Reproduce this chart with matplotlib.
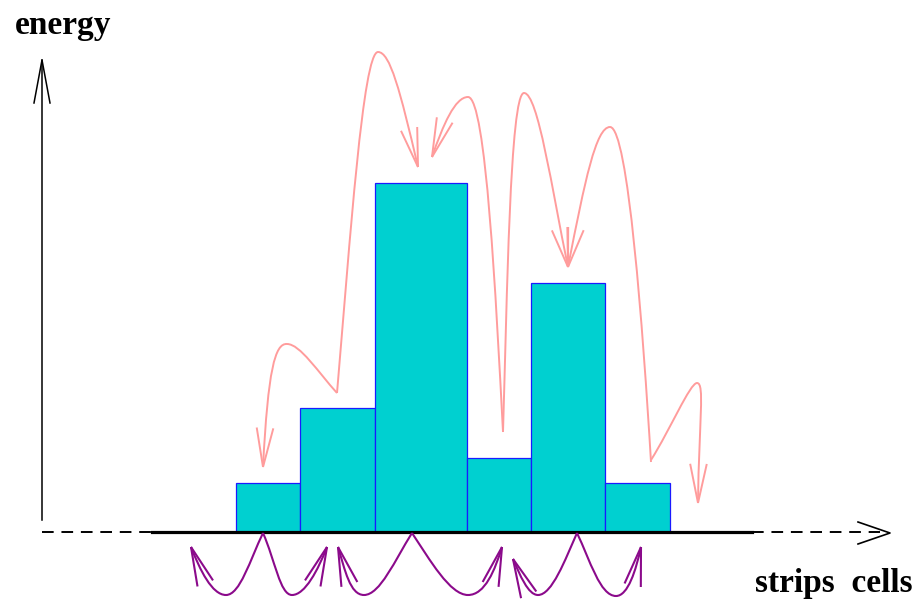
#!/usr/bin/env python
#
# Schematic: energy deposited in strips / cells with clustering arrows
#
import numpy as np
import matplotlib
matplotlib.use("Agg")
from matplotlib import pyplot as plt
from matplotlib.path import Path
from matplotlib.patches import PathPatch

######################################################
# Data (drawing units = pixels, y grows downwards)
######################################################
cell_edges = [236, 300, 375, 467, 531, 605, 670]
energy = [49, 124, 349, 74, 249, 49]
baseline = 532

# pink arrows: chained cubic bezier (start, c, c, peak, c, c, tip)
pink_curves = [
    [(337, 393), (318, 372), (300, 344), (287, 344), (275, 343), (268, 370), (263, 467)],
    [(337, 393), (350, 240), (363, 52), (378, 52), (390, 52), (400, 90), (418, 167)],
    [(503, 432), (496, 300), (486, 97), (468, 97), (455, 97), (443, 125), (432, 157)],
    [(503, 432), (507, 300), (510, 93), (524, 93), (538, 93), (552, 190), (568, 267)],
    [(651, 462), (643, 330), (628, 127), (610, 127), (596, 127), (585, 180), (568, 267)],
    [(651, 460), (670, 430), (690, 383), (697, 383), (705, 383), (699, 420), (698, 503)],
]

# purple arrows below the axis: peak on axis -> minimum -> tip
purple_curves = [
    [(263, 533), (250, 560), (240, 595), (226, 595), (212, 595), (200, 570), (191, 547)],
    [(263, 533), (275, 560), (280, 595), (292, 595), (305, 595), (318, 570), (327, 547)],
    [(412, 533), (395, 560), (380, 595), (364, 595), (350, 595), (345, 570), (338, 547)],
    [(412, 533), (430, 560), (450, 595), (468, 595), (485, 595), (495, 570), (502, 547)],
    [(577, 533), (565, 560), (552, 595), (538, 595), (528, 595), (520, 575), (513, 559)],
    [(577, 533), (590, 560), (600, 596), (616, 596), (628, 596), (636, 570), (641, 547)],
]

pink = '#ff9c9c'
purple = '#8b0a8b'

######################################################
# Plot
######################################################
fig = plt.figure(figsize=(9.22, 6.08), dpi=100)
ax = fig.add_axes([0, 0, 1, 1])
ax.set_xlim(0, 922)
ax.set_ylim(608, 0)
ax.axis('off')

lefts = cell_edges[:-1]
widths = np.diff(cell_edges)
ax.bar(lefts, [-e for e in energy], width=widths, bottom=baseline, align='edge',
       facecolor='#00d0d0', edgecolor='#1a1aff', linewidth=0.9, zorder=2)


def head(tip, prev, color, lw, length=40, half=12):
    d = np.array(tip, float) - np.array(prev, float)
    ang = np.arctan2(d[1], d[0]) + np.pi
    for s in (-1, 1):
        a = ang + s * np.radians(half)
        ax.plot([tip[0], tip[0] + length * np.cos(a)],
                [tip[1], tip[1] + length * np.sin(a)],
                color=color, lw=lw, solid_capstyle='butt', zorder=4)


def curve(pts, color, lw):
    codes = [Path.MOVETO] + [Path.CURVE4] * (len(pts) - 1)
    ax.add_patch(PathPatch(Path(pts, codes), facecolor='none', edgecolor=color,
                           lw=lw, zorder=4))
    head(pts[-1], pts[-2], color, lw)


for c in pink_curves:
    curve(c, pink, 1.4)
for c in purple_curves:
    curve(c, purple, 1.5)

# horizontal axis
ax.plot([42, 152], [baseline, baseline], color='black', lw=1.4, ls=(0, (6, 4)), zorder=3)
ax.plot([152, 752], [baseline, baseline], color='black', lw=2.3, zorder=3)
ax.plot([752, 880], [baseline, baseline], color='black', lw=1.4, ls=(0, (6, 4)), zorder=3)
ax.plot([858, 890, 858], [522, 533, 544], color='black', lw=1.2, zorder=3)

# vertical axis
ax.plot([42, 42], [520, 60], color='black', lw=1.1, zorder=3)
ax.plot([34, 42, 50], [103, 60, 103], color='black', lw=1.1, zorder=3)

ax.text(15, 34, 'energy', family='Liberation Serif', weight='bold', fontsize=24,
        ha='left', va='baseline')
ax.text(913, 592, 'strips  cells', family='Liberation Serif', weight='bold', fontsize=24,
        ha='right', va='baseline')

fig.savefig('out.png', dpi=100)
